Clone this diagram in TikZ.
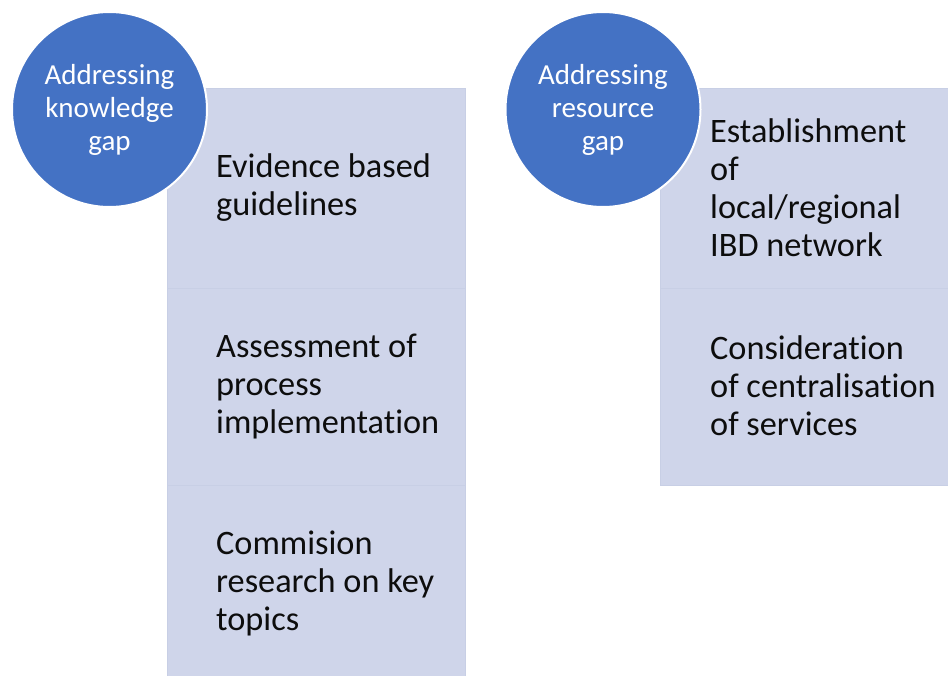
\documentclass[tikz,border=0pt]{standalone}
\usepackage{fontspec}
\setmainfont{Carlito}[RawFeature={-liga;-clig}]
\definecolor{boxfill}{HTML}{CFD5EA}
\definecolor{boxline}{HTML}{C8CFE5}
\definecolor{circfill}{HTML}{4472C4}
\definecolor{txt}{HTML}{0D0D0D}
\begin{document}
\begin{tikzpicture}[x=1pt,y=-1pt,
  boxstyle/.style={draw=boxline,line width=1pt,fill=boxfill,anchor=north west,inner sep=0pt},
  circstyle/.style={circle,fill=circfill,draw=white,line width=2pt,minimum size=195pt,inner sep=0pt,
    text=white,align=center,font=\fontsize{29pt}{33pt}\selectfont},
  itemtext/.style={anchor=west,align=left,inner sep=0pt,text=txt,font=\fontsize{34.3pt}{38pt}\selectfont}]
\useasboundingbox (0,0) rectangle (948,675);
% left column
\node[boxstyle,minimum width=298pt,minimum height=200pt] (L1) at (167,88) {};
\node[boxstyle,minimum width=298pt,minimum height=197pt] (L2) at (167,288) {};
\node[boxstyle,minimum width=298pt,minimum height=192pt] (L3) at (167,485) {};
% right column
\node[boxstyle,minimum width=290pt,minimum height=200pt] (R1) at (660,88) {};
\node[boxstyle,minimum width=290pt,minimum height=197pt] (R2) at (660,288) {};
% texts
\node[itemtext] (t1) at (216,188) {Evidence based\\guidelines};
\node[itemtext] (t2) at (216,386) {Assessment of\\process\\implementation};
\node[itemtext] (t3) at (216,583) {Commision\\research on key\\topics};
\node[itemtext] (t4) at (710,188) {Establishment\\of\\local/regional\\IBD network};
\node[itemtext] (t5) at (710,386) {Consideration\\of centralisation\\of services};
% circles
\node[circstyle] (C1) at (109.5,109.5) {Addressing\\knowledge\\gap};
\node[circstyle] (C2) at (603,109.5) {Addressing\\resource\\gap};
\end{tikzpicture}
\end{document}
